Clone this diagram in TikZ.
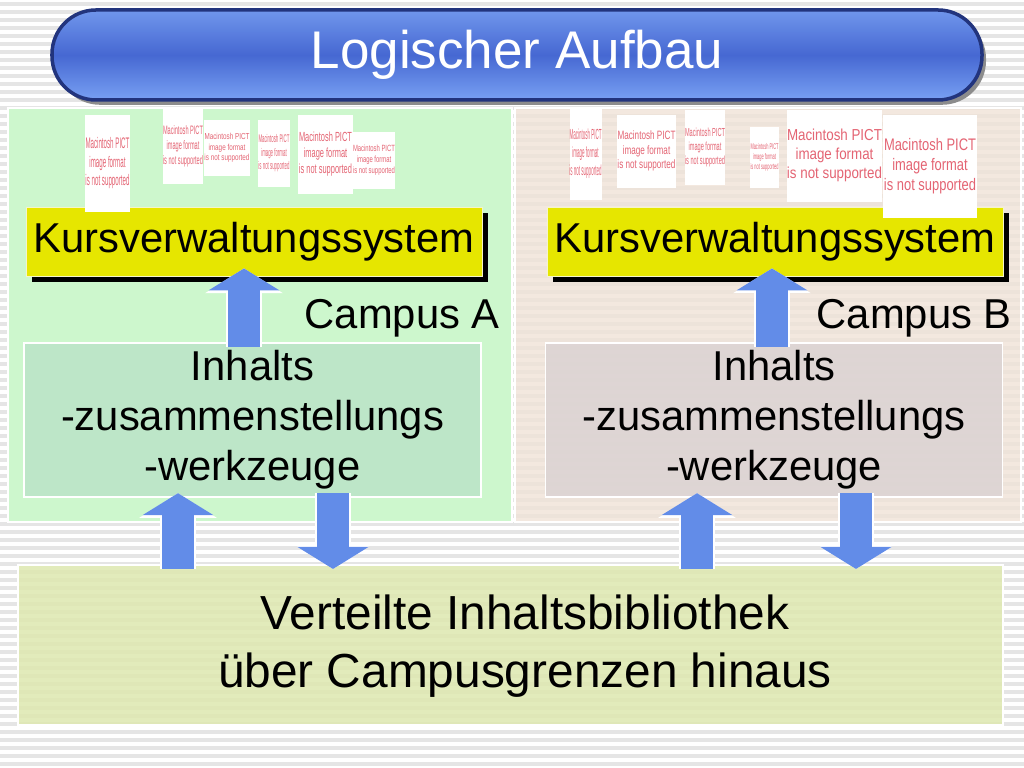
\documentclass[tikz,border=0pt]{standalone}
\usepackage{graphicx}
\usepackage{fontspec}
\setmainfont{Liberation Sans}
\usetikzlibrary{arrows.meta}
\usetikzlibrary{shadows}
\definecolor{stripe}{RGB}{229,229,229}
\definecolor{campusa}{RGB}{205,247,205}
\definecolor{campusb}{RGB}{240,227,216}
\definecolor{toola}{RGB}{189,230,200}
\definecolor{toolb}{RGB}{220,212,211}
\definecolor{libgreen}{RGB}{222,232,176}
\definecolor{kursyellow}{RGB}{230,230,0}
\definecolor{kursedge}{RGB}{245,245,200}
\definecolor{arrowblue}{RGB}{98,140,232}
\definecolor{titletop}{RGB}{112,150,236}
\definecolor{titlemid}{RGB}{70,104,210}
\definecolor{titlebot}{RGB}{120,160,243}
\definecolor{titleline}{RGB}{34,52,125}
\definecolor{pictred}{RGB}{228,100,115}
\newcommand{\pictmsg}[2]{\scalebox{#1}[#2]{\begin{tabular}{@{}c@{}}Macintosh PICT\\image format\\is not supported\end{tabular}}}

\begin{document}
\begin{tikzpicture}[
  title/.style={draw=titleline, line width=2.5pt, rounded corners=1.1cm, minimum width=23.25cm, minimum height=2.25cm, top color=titletop, bottom color=titlebot, middle color=titlemid, text=white, font=\fontsize{37.7}{45}\selectfont, drop shadow={shadow xshift=0.1cm, shadow yshift=-0.12cm, fill=black!45, opacity=1}},
  kurs/.style={fill=kursyellow, draw=kursedge, line width=0.6pt, minimum width=11.4cm, minimum height=1.725cm, inner sep=0pt, font=\fontsize{29.7}{35.6}\selectfont, drop shadow={shadow xshift=0.16cm, shadow yshift=-0.16cm, fill=black, opacity=1}},
  pict/.style={fill=white, text=pictred, inner sep=0pt, font=\fontsize{10}{12}\selectfont},
  campus/.style={inner sep=0pt, anchor=east, font=\fontsize{29.7}{35.6}\selectfont},
  tool/.style={draw=white, line width=1.4pt, minimum width=11.425cm, minimum height=3.85cm, inner sep=0pt, align=center, text opacity=1, font=\fontsize{29.7}{35.6}\selectfont},
  lib/.style={fill=libgreen, fill opacity=0.85, draw=white, line width=1.2pt, minimum width=24.625cm, minimum height=4cm},
  libfont/.style={align=center, inner sep=0pt, font=\fontsize{34}{41.3}\selectfont},
  blockhalo/.style={white, line width=0.9cm, -{Triangle[length=0.62cm 0 0, width=1.92cm 0 0]}},
  blockarrow/.style={arrowblue, line width=0.8cm, -{Triangle[length=0.55cm 0 0, width=1.75cm 0 0]}}
]
\useasboundingbox (0,0) rectangle (25.6,19.2);

%% background
\fill [white] (0,0) rectangle (25.6,19.2);
\foreach \y in {0.05,0.25,...,19.2}
  \fill [stripe] (0,\y) rectangle ++(25.6,0.1);

%% campus panels
\filldraw [fill=campusa, draw=white, line width=1.4pt] (0.2,6.15) rectangle (12.8,16.5);
\filldraw [fill=campusb, fill opacity=0.8, draw=white, line width=1.4pt] (12.875,6.15) rectangle (25.525,16.5);

%% title
\node [title] (title) at (12.925,17.825) {Logischer Aufbau};

%% course management
\node [kurs] (kursA) at (6.35,13.1625) {Kursverwaltungssystem};
\node [kurs] (kursB) at (19.375,13.1625) {Kursverwaltungssystem};

%% broken pictures
% campus A
\node [pict, minimum width=1.125cm, minimum height=2.425cm] (pa1) at (2.6875,15.1125) {\pictmsg{0.44}{1.09}};
\node [pict, minimum width=1.0cm, minimum height=1.875cm] (pa2) at (4.575,15.5375) {\pictmsg{0.40}{0.87}};
\node [pict, minimum width=1.15cm, minimum height=1.4cm] (pa3) at (5.675,15.5) {\pictmsg{0.45}{0.62}};
\node [pict, minimum width=0.8cm, minimum height=1.675cm] (pa4) at (6.85,15.3625) {\pictmsg{0.31}{0.79}};
\node [pict, minimum width=1.375cm, minimum height=1.975cm] (pa5) at (8.1375,15.3375) {\pictmsg{0.53}{0.94}};
\node [pict, minimum width=1.05cm, minimum height=1.425cm] (pa6) at (9.35,15.1875) {\pictmsg{0.42}{0.64}};
% campus B
\node [pict, minimum width=0.775cm, minimum height=2.3cm] (pb1) at (14.6375,15.35) {\pictmsg{0.32}{1.04}};
\node [pict, minimum width=1.475cm, minimum height=1.825cm] (pb2) at (16.1625,15.4125) {\pictmsg{0.58}{0.86}};
\node [pict, minimum width=1.0cm, minimum height=1.875cm] (pb3) at (17.625,15.5125) {\pictmsg{0.40}{0.83}};
\node [pict, minimum width=0.725cm, minimum height=1.525cm] (pb4) at (19.1125,15.2625) {\pictmsg{0.28}{0.59}};
\node [pict, minimum width=2.375cm, minimum height=2.3cm] (pb5) at (20.8625,15.3) {\pictmsg{0.95}{1.13}};
\node [pict, minimum width=2.35cm, minimum height=2.575cm] (pb6) at (23.25,15.0375) {\pictmsg{0.92}{1.19}};

%% campus labels
\node [campus] (campA) at (12.5,11.25) {Campus A};
\node [campus] (campB) at (25.3,11.25) {Campus B};

%% authoring tools
\node [tool, fill=toola] (inhA) at (6.3125,8.7) {Inhalts\\-zusammenstellungs\\-werkzeuge};
\node [tool, fill=toolb, fill opacity=0.9] (inhB) at (19.35,8.7) {Inhalts\\-zusammenstellungs\\-werkzeuge};

%% library
\node [lib] (lib) at (12.7625,3.075) {};
\node [libfont] (libtext) at (13.125,3.05) {Verteilte Inhaltsbibliothek\\über Campusgrenzen hinaus};

%% arrows
% tools to course management
\draw [blockhalo, shorten <=-0.125cm, shorten >=-0.2cm] (6.1,0 |- inhA.north) -- (6.1,0 |- kursA.south);
\draw [blockarrow, shorten <=-0.125cm, shorten >=-0.2cm] (6.1,0 |- inhA.north) -- (6.1,0 |- kursA.south);
\draw [blockhalo, shorten <=-0.125cm, shorten >=-0.2cm] (19.3,0 |- inhB.north) -- (19.3,0 |- kursB.south);
\draw [blockarrow, shorten <=-0.125cm, shorten >=-0.2cm] (19.3,0 |- inhB.north) -- (19.3,0 |- kursB.south);
% library and tools
\draw [blockhalo, shorten <=-0.12cm, shorten >=-0.12cm] (4.45,0 |- lib.north) -- (4.45,0 |- inhA.south);
\draw [blockarrow, shorten <=-0.12cm, shorten >=-0.12cm] (4.45,0 |- lib.north) -- (4.45,0 |- inhA.south);
\draw [blockhalo, shorten <=-0.12cm, shorten >=-0.12cm] (8.325,0 |- inhA.south) -- (8.325,0 |- lib.north);
\draw [blockarrow, shorten <=-0.12cm, shorten >=-0.12cm] (8.325,0 |- inhA.south) -- (8.325,0 |- lib.north);
\draw [blockhalo, shorten <=-0.12cm, shorten >=-0.12cm] (17.425,0 |- lib.north) -- (17.425,0 |- inhB.south);
\draw [blockarrow, shorten <=-0.12cm, shorten >=-0.12cm] (17.425,0 |- lib.north) -- (17.425,0 |- inhB.south);
\draw [blockhalo, shorten <=-0.12cm, shorten >=-0.12cm] (21.4,0 |- inhB.south) -- (21.4,0 |- lib.north);
\draw [blockarrow, shorten <=-0.12cm, shorten >=-0.12cm] (21.4,0 |- inhB.south) -- (21.4,0 |- lib.north);

\end{tikzpicture}
\end{document}
